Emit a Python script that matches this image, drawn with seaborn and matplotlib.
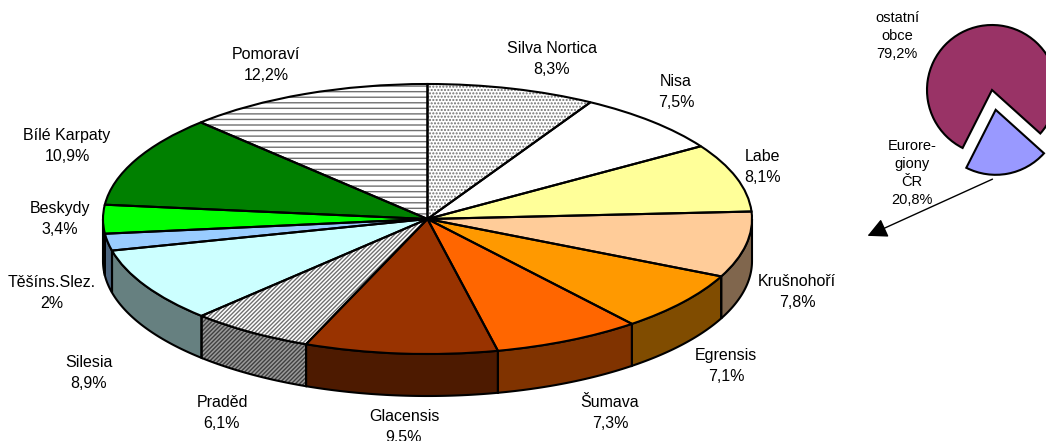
import numpy as np
import matplotlib
matplotlib.use("Agg")
import matplotlib.pyplot as plt
import seaborn as sns
from matplotlib.patches import Polygon

# euroregion shares (%), clockwise from 12 o'clock
regions = ["Silva Nortica", "Nisa", "Labe", "Krušnohoří", "Egrensis", "Šumava",
           "Glacensis", "Praděd", "Silesia", "Těšíns.Slez.", "Beskydy",
           "Bílé Karpaty", "Pomoraví"]
shares = [8.3, 7.5, 8.1, 7.8, 7.1, 7.3, 9.5, 6.1, 8.9, 2.0, 3.4, 10.9, 12.2]

# small inset pie
inset_labels = ["ostatní\nobce", "Eurore-\ngiony\nČR"]
inset_shares = [79.2, 20.8]

top_colors = ["white", "white", "#FFFF99", "#FFCC99", "#FF9900", "#FF6600",
              "#993300", "white", "#CCFFFF", "#99CCFF", "#00FF00", "#008000", "white"]
side_colors = ["#808080", "#808080", "#80804D", "#80664D", "#804C00", "#803300",
               "#4D1A00", "#9A9A9A", "#668080", "#4D6680", "#008000", "#004000", "#808080"]
hatches = [".....", None, None, None, None, None, None, "////////", None, None, None, None, "---"]
hatch_gray = "#707070"

# layout in pixels
W, H = 1046, 441
cx, cy, rx, ry, depth = 427.5, 219, 324.5, 135, 42
label_xy = [(552, 59), (676, 92), (763, 167), (797, 292), (726, 366), (610, 413),
            (404, 427), (222, 413), (89, 373), (52, 293), (60, 219), (67, 146), (266, 65)]


def pct(v):
    return f"{v:g}".replace(".", ",") + "%"


sns.set_theme(style="white")
plt.rcParams['font.family'] = ['Liberation Sans', 'DejaVu Sans']
plt.rcParams['hatch.linewidth'] = 1.0

fig = plt.figure(figsize=(W / 100, H / 100), dpi=100)
ax = fig.add_axes([0, 0, 1, 1])

# top faces
wedges, _ = ax.pie(shares, startangle=90, counterclock=False, colors=top_colors,
                   radius=1, center=(0, 0), wedgeprops=dict(linewidth=0))
for w, h in zip(wedges, hatches):
    w.set_zorder(2)
    if h:
        w.set_hatch(h)
        w.set_edgecolor(hatch_gray)
outl, _ = ax.pie(shares, startangle=90, counterclock=False, radius=1, center=(0, 0),
                 wedgeprops=dict(fill=False, edgecolor="black", linewidth=1.5))
for w in outl:
    w.set_zorder(3)

# side faces of the front half
d = depth / ry
bounds = np.concatenate([[0], np.cumsum(shares)]) / np.sum(shares) * 360
for i in range(len(shares)):
    a, b = max(bounds[i], 90), min(bounds[i + 1], 270)
    if a >= b:
        continue
    t = np.radians(np.linspace(a, b, 60))
    xs, ys = np.sin(t), np.cos(t)
    pts = np.column_stack([np.r_[xs, xs[::-1]], np.r_[ys, ys[::-1] - d]])
    face = Polygon(pts, closed=True, facecolor=side_colors[i], linewidth=0, zorder=1)
    if hatches[i]:
        face.set_hatch(hatches[i])
        face.set_edgecolor("#404040")
    ax.add_patch(face)
    ax.add_patch(Polygon(pts, closed=True, fill=False, edgecolor="black",
                         linewidth=1.5, zorder=1.5))

ax.set_aspect("auto")
ax.set_xlim(-cx / rx, (W - cx) / rx)
ax.set_ylim((cy - H) / ry, cy / ry)
ax.axis("off")

# overlay in pixel coordinates for labels and arrow
ax_t = fig.add_axes([0, 0, 1, 1], facecolor="none")
ax_t.set_xlim(0, W)
ax_t.set_ylim(H, 0)
ax_t.axis("off")
for name, v, (x, y) in zip(regions, shares, label_xy):
    ax_t.text(x, y, f"{name}\n{pct(v)}", ha="center", va="center",
              fontsize=11.5, linespacing=1.45, color="black")

# inset pie
pr, pcx, pcy = 65, 992, 90
ax2 = fig.add_axes([(pcx - pr) / W, (H - pcy - pr) / H, 2 * pr / W, 2 * pr / H])
iw, _ = ax2.pie(inset_shares, startangle=-42, counterclock=True, explode=[0, 0.31],
                colors=["#993366", "#9999FF"],
                wedgeprops=dict(edgecolor="black", linewidth=1.5))
for w in iw:
    w.set_clip_on(False)
ax2.set_aspect("auto")
ax2.set_xlim(-1, 1)
ax2.set_ylim(-1, 1)
ax2.axis("off")

inset_xy = [(897, 36), (912, 173)]
for lab, v, (x, y) in zip(inset_labels, inset_shares, inset_xy):
    ax_t.text(x, y, f"{lab}\n{pct(v)}", ha="center", va="center",
              fontsize=10.5, linespacing=1.35, color="black")

ax_t.annotate("", xy=(865, 237), xytext=(995, 178),
              arrowprops=dict(arrowstyle="-|>", mutation_scale=30, color="black", lw=1))

fig.savefig("out.png", dpi=100)
